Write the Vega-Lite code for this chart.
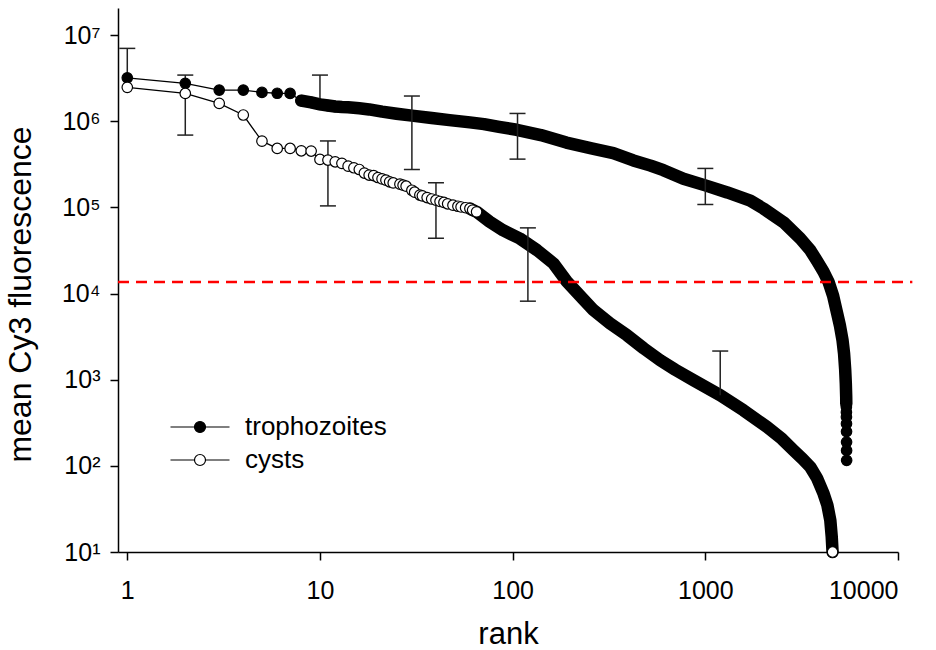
{
  "$schema": "https://vega.github.io/schema/vega-lite/v6.json",
  "width": 780,
  "height": 544,
  "autosize": {"type": "none"},
  "padding": {"left": 118, "top": 8, "right": 38, "bottom": 98},
  "background": "white",
  "config": {
    "font": "Liberation Sans",
    "view": {"stroke": null},
    "axis": {
      "grid": false,
      "domainColor": "black",
      "tickColor": "black",
      "labelColor": "black",
      "titleColor": "black",
      "labelFont": "Liberation Sans",
      "titleFont": "Liberation Sans",
      "labelFontSize": 25,
      "titleFontSize": 31,
      "titleFontWeight": "normal",
      "tickSize": 8,
      "domainWidth": 1.5,
      "tickWidth": 1.5
    }
  },
  "datasets": {
    "curves": [
      {"series": "trophozoites", "rank": 1, "value": 3190000},
      {"series": "trophozoites", "rank": 2, "value": 2750000},
      {"series": "trophozoites", "rank": 3, "value": 2300000},
      {"series": "trophozoites", "rank": 4, "value": 2300000},
      {"series": "trophozoites", "rank": 5, "value": 2160000},
      {"series": "trophozoites", "rank": 6, "value": 2110000},
      {"series": "trophozoites", "rank": 7, "value": 2100000},
      {"series": "trophozoites", "rank": 8, "value": 1730000},
      {"series": "trophozoites", "rank": 9, "value": 1650000},
      {"series": "trophozoites", "rank": 10, "value": 1570000},
      {"series": "trophozoites", "rank": 11, "value": 1520000},
      {"series": "trophozoites", "rank": 12, "value": 1480000},
      {"series": "trophozoites", "rank": 13, "value": 1460000},
      {"series": "trophozoites", "rank": 14, "value": 1450000},
      {"series": "trophozoites", "rank": 16, "value": 1410000},
      {"series": "trophozoites", "rank": 18, "value": 1370000},
      {"series": "trophozoites", "rank": 21, "value": 1290000},
      {"series": "trophozoites", "rank": 25, "value": 1220000},
      {"series": "trophozoites", "rank": 30, "value": 1160000},
      {"series": "trophozoites", "rank": 38, "value": 1090000},
      {"series": "trophozoites", "rank": 47, "value": 1030000},
      {"series": "trophozoites", "rank": 60, "value": 970000},
      {"series": "trophozoites", "rank": 71, "value": 925000},
      {"series": "trophozoites", "rank": 85, "value": 860000},
      {"series": "trophozoites", "rank": 105, "value": 795000},
      {"series": "trophozoites", "rank": 140, "value": 690000},
      {"series": "trophozoites", "rank": 190, "value": 565000},
      {"series": "trophozoites", "rank": 260, "value": 480000},
      {"series": "trophozoites", "rank": 333, "value": 425000},
      {"series": "trophozoites", "rank": 423, "value": 350000},
      {"series": "trophozoites", "rank": 520, "value": 305000},
      {"series": "trophozoites", "rank": 606, "value": 270000},
      {"series": "trophozoites", "rank": 770, "value": 215000},
      {"series": "trophozoites", "rank": 1000, "value": 180000},
      {"series": "trophozoites", "rank": 1300, "value": 149000},
      {"series": "trophozoites", "rank": 1711, "value": 120000},
      {"series": "trophozoites", "rank": 2000, "value": 97000},
      {"series": "trophozoites", "rank": 2548, "value": 67000},
      {"series": "trophozoites", "rank": 3110, "value": 43500},
      {"series": "trophozoites", "rank": 3500, "value": 32000},
      {"series": "trophozoites", "rank": 3795, "value": 24000},
      {"series": "trophozoites", "rank": 4100, "value": 18000},
      {"series": "trophozoites", "rank": 4363, "value": 13600},
      {"series": "trophozoites", "rank": 4600, "value": 9500},
      {"series": "trophozoites", "rank": 4823, "value": 6000},
      {"series": "trophozoites", "rank": 5000, "value": 4200},
      {"series": "trophozoites", "rank": 5150, "value": 2900},
      {"series": "trophozoites", "rank": 5250, "value": 2000},
      {"series": "trophozoites", "rank": 5320, "value": 1300},
      {"series": "trophozoites", "rank": 5360, "value": 900},
      {"series": "trophozoites", "rank": 5385, "value": 630},
      {"series": "trophozoites", "rank": 5390, "value": 525},
      {"series": "trophozoites", "rank": 5395, "value": 482},
      {"series": "trophozoites", "rank": 5398, "value": 420},
      {"series": "trophozoites", "rank": 5400, "value": 369},
      {"series": "trophozoites", "rank": 5403, "value": 309},
      {"series": "trophozoites", "rank": 5406, "value": 250},
      {"series": "trophozoites", "rank": 5408, "value": 189},
      {"series": "trophozoites", "rank": 5410, "value": 151},
      {"series": "trophozoites", "rank": 5413, "value": 116},
      {"series": "cysts", "rank": 1, "value": 2470000},
      {"series": "cysts", "rank": 2, "value": 2100000},
      {"series": "cysts", "rank": 3, "value": 1610000},
      {"series": "cysts", "rank": 4, "value": 1180000},
      {"series": "cysts", "rank": 5, "value": 587000},
      {"series": "cysts", "rank": 6, "value": 483000},
      {"series": "cysts", "rank": 7, "value": 483000},
      {"series": "cysts", "rank": 8, "value": 453000},
      {"series": "cysts", "rank": 9, "value": 450000},
      {"series": "cysts", "rank": 10, "value": 360000},
      {"series": "cysts", "rank": 11, "value": 354000},
      {"series": "cysts", "rank": 12, "value": 338000},
      {"series": "cysts", "rank": 13, "value": 324000},
      {"series": "cysts", "rank": 14, "value": 301000},
      {"series": "cysts", "rank": 15, "value": 288000},
      {"series": "cysts", "rank": 16, "value": 275000},
      {"series": "cysts", "rank": 17, "value": 250000},
      {"series": "cysts", "rank": 18, "value": 237000},
      {"series": "cysts", "rank": 19, "value": 234000},
      {"series": "cysts", "rank": 20, "value": 222000},
      {"series": "cysts", "rank": 21, "value": 214000},
      {"series": "cysts", "rank": 22, "value": 207000},
      {"series": "cysts", "rank": 23, "value": 198000},
      {"series": "cysts", "rank": 24, "value": 192000},
      {"series": "cysts", "rank": 26, "value": 186000},
      {"series": "cysts", "rank": 27, "value": 181000},
      {"series": "cysts", "rank": 28, "value": 176000},
      {"series": "cysts", "rank": 30, "value": 158000},
      {"series": "cysts", "rank": 31, "value": 150000},
      {"series": "cysts", "rank": 33, "value": 139000},
      {"series": "cysts", "rank": 34, "value": 136000},
      {"series": "cysts", "rank": 36, "value": 130000},
      {"series": "cysts", "rank": 38, "value": 125000},
      {"series": "cysts", "rank": 40, "value": 121000},
      {"series": "cysts", "rank": 42, "value": 117000},
      {"series": "cysts", "rank": 44, "value": 114000},
      {"series": "cysts", "rank": 46, "value": 110000},
      {"series": "cysts", "rank": 49, "value": 106000},
      {"series": "cysts", "rank": 52, "value": 103000},
      {"series": "cysts", "rank": 54, "value": 101000},
      {"series": "cysts", "rank": 57, "value": 99000},
      {"series": "cysts", "rank": 60, "value": 97000},
      {"series": "cysts", "rank": 62, "value": 93000},
      {"series": "cysts", "rank": 65, "value": 88700},
      {"series": "cysts", "rank": 76, "value": 68000},
      {"series": "cysts", "rank": 89, "value": 54300},
      {"series": "cysts", "rank": 109, "value": 43500},
      {"series": "cysts", "rank": 134, "value": 31800},
      {"series": "cysts", "rank": 163, "value": 22300},
      {"series": "cysts", "rank": 191, "value": 13800},
      {"series": "cysts", "rank": 230, "value": 8800},
      {"series": "cysts", "rank": 263, "value": 6400},
      {"series": "cysts", "rank": 320, "value": 4500},
      {"series": "cysts", "rank": 392, "value": 3280},
      {"series": "cysts", "rank": 480, "value": 2300},
      {"series": "cysts", "rank": 583, "value": 1680},
      {"series": "cysts", "rank": 700, "value": 1300},
      {"series": "cysts", "rank": 869, "value": 984},
      {"series": "cysts", "rank": 1195, "value": 660},
      {"series": "cysts", "rank": 1578, "value": 441},
      {"series": "cysts", "rank": 2088, "value": 283},
      {"series": "cysts", "rank": 2500, "value": 205},
      {"series": "cysts", "rank": 2871, "value": 151},
      {"series": "cysts", "rank": 3200, "value": 120},
      {"series": "cysts", "rank": 3507, "value": 97},
      {"series": "cysts", "rank": 3800, "value": 72},
      {"series": "cysts", "rank": 4110, "value": 47.5},
      {"series": "cysts", "rank": 4300, "value": 35},
      {"series": "cysts", "rank": 4454, "value": 23.3},
      {"series": "cysts", "rank": 4530, "value": 15},
      {"series": "cysts", "rank": 4575, "value": 10}
    ],
    "bars": [
      {"rank": 1, "lo": 3190000, "hi": 7000000},
      {"rank": 2, "lo": 690000, "hi": 3430000},
      {"rank": 10, "lo": 1570000, "hi": 3430000},
      {"rank": 30, "lo": 275000, "hi": 1960000},
      {"rank": 106, "lo": 363000, "hi": 1230000},
      {"rank": 1000, "lo": 108000, "hi": 283000},
      {"rank": 11, "lo": 104000, "hi": 590000},
      {"rank": 40, "lo": 43800, "hi": 193000},
      {"rank": 120, "lo": 8150, "hi": 57800},
      {"rank": 1195, "lo": 660, "hi": 2150}
    ],
    "caps": [
      {"rank": 1, "value": 7000000},
      {"rank": 2, "value": 3430000},
      {"rank": 2, "value": 690000},
      {"rank": 10, "value": 3430000},
      {"rank": 30, "value": 1960000},
      {"rank": 30, "value": 275000},
      {"rank": 106, "value": 1230000},
      {"rank": 106, "value": 363000},
      {"rank": 1000, "value": 283000},
      {"rank": 1000, "value": 108000},
      {"rank": 11, "value": 590000},
      {"rank": 11, "value": 104000},
      {"rank": 40, "value": 193000},
      {"rank": 40, "value": 43800},
      {"rank": 120, "value": 57800},
      {"rank": 120, "value": 8150},
      {"rank": 1195, "value": 2150}
    ],
    "thresh": [
      {"rank": 0.895, "rank_end": 11870, "value": 13650}
    ]
  },
  "layer": [
    {
      "data": {"name": "curves"},
      "mark": {"type": "line", "color": "black", "strokeWidth": 1.3},
      "encoding": {
        "x": {
          "field": "rank", "type": "quantitative",
          "scale": {"type": "log", "domain": [0.895, 10000], "nice": false, "zero": false},
          "axis": {
            "title": "rank",
            "values": [1, 10, 100, 1000, 10000],
            "format": "d",
            "labelPadding": 18,
            "titleX": 390,
            "titleY": 91,
            "titleAlign": "center",
            "titleBaseline": "alphabetic"
          }
        },
        "y": {
          "field": "value", "type": "quantitative",
          "scale": {"type": "log", "domain": [10, 20600000], "nice": false, "zero": false},
          "axis": {
            "title": "mean Cy3 fluorescence",
            "values": [10, 100, 1000, 10000, 100000, 1000000, 10000000],
            "labelExpr": "'10' + ['⁰','¹','²','³','⁴','⁵','⁶','⁷','⁸'][round(log(datum.value)/LN10)]",
            "labelPadding": 10,
            "titleAngle": -90,
            "titleX": -88,
            "titleY": 286,
            "titleFontSize": 32,
            "titleAlign": "center",
            "titleBaseline": "alphabetic"
          }
        },
        "detail": {"field": "series"},
        "order": {"field": "rank", "type": "quantitative"}
      }
    },
    {
      "data": {"name": "curves"},
      "transform": [
        {"filter": "(datum.series == 'trophozoites' && datum.rank >= 8 && datum.rank <= 5390) || (datum.series == 'cysts' && datum.rank >= 60)"}
      ],
      "mark": {"type": "line", "color": "black", "strokeWidth": 12.5, "strokeCap": "round", "strokeJoin": "round"},
      "encoding": {
        "x": {"field": "rank", "type": "quantitative", "scale": {"type": "log", "domain": [0.895, 10000], "nice": false, "zero": false}},
        "y": {"field": "value", "type": "quantitative", "scale": {"type": "log", "domain": [10, 20600000], "nice": false, "zero": false}},
        "detail": {"field": "series"},
        "order": {"field": "rank", "type": "quantitative"}
      }
    },
    {
      "data": {"name": "bars"},
      "mark": {"type": "rule", "color": "#222222", "strokeWidth": 1.5},
      "encoding": {
        "x": {"field": "rank", "type": "quantitative", "scale": {"type": "log", "domain": [0.895, 10000], "nice": false, "zero": false}},
        "y": {"field": "lo", "type": "quantitative", "scale": {"type": "log", "domain": [10, 20600000], "nice": false, "zero": false}},
        "y2": {"field": "hi"}
      }
    },
    {
      "data": {"name": "caps"},
      "mark": {"type": "tick", "orient": "horizontal", "color": "#222222", "size": 16, "thickness": 1.5, "opacity": 1},
      "encoding": {
        "x": {"field": "rank", "type": "quantitative", "scale": {"type": "log", "domain": [0.895, 10000], "nice": false, "zero": false}},
        "y": {"field": "value", "type": "quantitative", "scale": {"type": "log", "domain": [10, 20600000], "nice": false, "zero": false}}
      }
    },
    {
      "data": {"name": "curves"},
      "transform": [
        {"filter": "(datum.series == 'trophozoites' && (datum.rank <= 12 || datum.rank > 5390)) || (datum.series == 'cysts' && (datum.rank <= 65 || datum.rank >= 4575))"}
      ],
      "mark": {"type": "point", "shape": "circle", "filled": true, "size": 110, "stroke": "black", "strokeWidth": 1.2, "opacity": 1},
      "encoding": {
        "x": {"field": "rank", "type": "quantitative", "scale": {"type": "log", "domain": [0.895, 10000], "nice": false, "zero": false}},
        "y": {"field": "value", "type": "quantitative", "scale": {"type": "log", "domain": [10, 20600000], "nice": false, "zero": false}},
        "fill": {
          "field": "series", "type": "nominal",
          "scale": {"domain": ["trophozoites", "cysts"], "range": ["black", "white"]},
          "legend": {
            "title": null,
            "orient": "none",
            "legendX": 69,
            "legendY": 406,
            "padding": 0,
            "symbolType": "M-5.364,0L-1,0M1,0L5.364,0M1,0A1,1,0,1,1,-1,0A1,1,0,1,1,1,0Z",
            "symbolSize": 121,
            "symbolStrokeColor": "black",
            "symbolStrokeWidth": 1.2,
            "symbolOpacity": 1,
            "labelFont": "Liberation Sans",
            "labelFontSize": 26,
            "labelColor": "black",
            "labelOffset": 32,
            "rowPadding": 7
          }
        },
        "order": {"field": "rank", "type": "quantitative"}
      }
    },
    {
      "data": {"name": "thresh"},
      "mark": {"type": "rule", "color": "#ff0000", "strokeWidth": 2.5, "strokeDash": [11, 7]},
      "encoding": {
        "x": {"field": "rank", "type": "quantitative", "scale": {"type": "log", "domain": [0.895, 10000], "nice": false, "zero": false}},
        "x2": {"field": "rank_end"},
        "y": {"field": "value", "type": "quantitative", "scale": {"type": "log", "domain": [10, 20600000], "nice": false, "zero": false}}
      }
    }
  ]
}
